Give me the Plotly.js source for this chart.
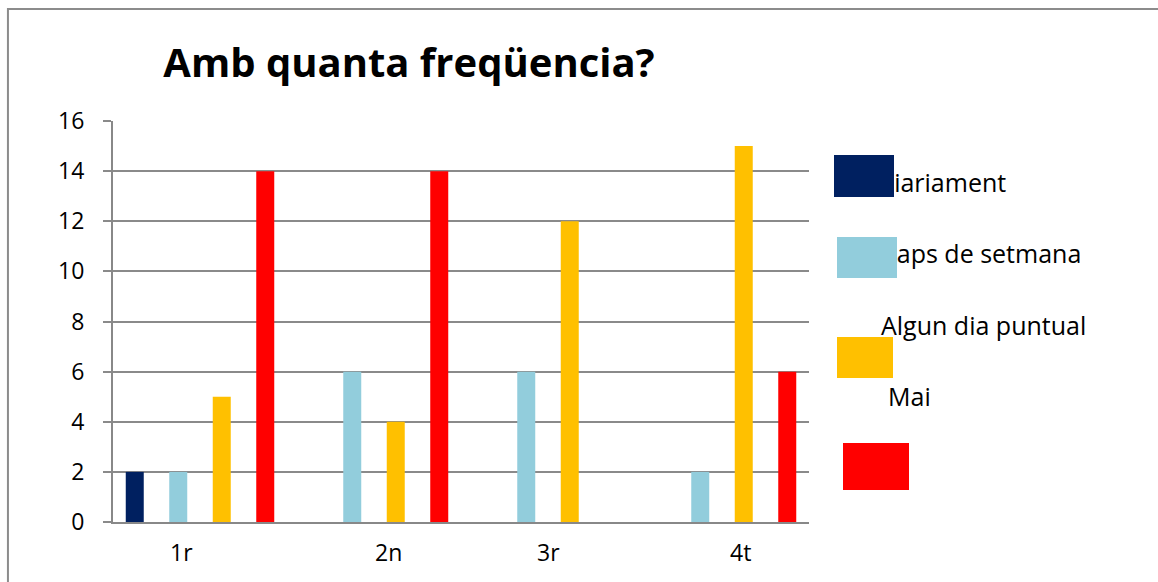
<!DOCTYPE html>
<html>
<head>
<meta charset="utf-8">
<script src="https://cdn.plot.ly/plotly-3.0.1.min.js"></script>
<style>
html,body{margin:0;padding:0;background:#fff;}
#chart{width:1158px;height:582px;}
</style>
</head>
<body>
<div id="chart"></div>
<script>
var categories = ['1r', '2n', '3r', '4t'];
var seriesNames = ['Diariament', 'Caps de setmana', 'Algun dia puntual', 'Mai'];
var diariament = [2, 0, 0, 0];
var capsDeSetmana = [2, 6, 6, 2];
var algunDiaPuntual = [5, 4, 12, 15];
var mai = [14, 14, 0, 6];
var yTicks = [0, 2, 4, 6, 8, 10, 12, 14, 16];

var colors = ['#002060', '#92CDDC', '#FFC000', '#FF0000'];
var seriesValues = [diariament, capsDeSetmana, algunDiaPuntual, mai];

var W = 1158, H = 582;
var L = 113, R = W - 808.6, T = 121, B = H - 522;
var pw = W - L - R, ph = H - T - B;
function px(x) { return (x - L) / pw; }
function py(y) { return (H - B - y) / ph; }

var FONT = 'Open Sans, Noto Sans, sans-serif';

var traces = seriesNames.map(function (n, i) {
  return {
    type: 'bar', name: n, x: categories, y: seriesValues[i],
    marker: {color: colors[i]}, showlegend: false, hoverinfo: 'x+y+name'
  };
});

// x tick labels (slightly offset as in reference)
var xLabelShift = [-19, 14, 0, 18];
var annotations = categories.map(function (c, i) {
  return {
    xref: 'x', yref: 'paper', x: c, y: 0, xshift: xLabelShift[i], yshift: -30,
    text: c, showarrow: false, xanchor: 'center', yanchor: 'middle',
    font: {family: FONT, size: 23, color: '#000'}
  };
});

// custom legend: text first, then swatches over it
var legendText = [
  {t: seriesNames[0], x: 1007, y: 182, anchor: 'right'},
  {t: seriesNames[1], x: 1082, y: 253, anchor: 'right'},
  {t: seriesNames[2], x: 879, y: 325, anchor: 'left'},
  {t: seriesNames[3], x: 886, y: 396, anchor: 'left'}
];
legendText.forEach(function (d) {
  annotations.push({
    xref: 'paper', yref: 'paper', x: px(d.x), y: py(d.y), text: d.t,
    showarrow: false, xanchor: d.anchor, yanchor: 'middle',
    font: {family: FONT, size: 25, color: '#000'}
  });
});
var swatches = [
  {x0: 834, x1: 894, y0: 155, y1: 197},
  {x0: 837, x1: 897, y0: 237, y1: 278},
  {x0: 837, x1: 893, y0: 337, y1: 378},
  {x0: 843, x1: 909, y0: 443, y1: 490}
];
swatches.forEach(function (s, i) {
  annotations.push({
    xref: 'paper', yref: 'paper', x: px((s.x0 + s.x1) / 2), y: py((s.y0 + s.y1) / 2),
    text: ' ', showarrow: false, xanchor: 'center', yanchor: 'middle',
    width: s.x1 - s.x0, height: s.y1 - s.y0, bgcolor: colors[i],
    borderpad: 0, borderwidth: 0, font: {size: 1}
  });
});

var layout = {
  width: W, height: H,
  margin: {l: L, r: R, t: T, b: B, pad: 0},
  paper_bgcolor: '#fff', plot_bgcolor: '#fff',
  title: {
    text: '<b>Amb quanta freqüencia?</b>',
    x: 409 / W, xanchor: 'center', y: 1 - 63 / H, yanchor: 'middle',
    xref: 'container', yref: 'container',
    font: {family: FONT, size: 40, color: '#000'}
  },
  barmode: 'group', bargap: 0, bargroupgap: 0.586,
  xaxis: {
    type: 'category', showticklabels: false, ticks: '',
    showline: true, linecolor: '#888', linewidth: 2, showgrid: false, zeroline: false,
    fixedrange: true
  },
  yaxis: {
    range: [0, 16], tickvals: yTicks, ticktext: yTicks.map(String),
    showgrid: true, gridcolor: '#8a8a8a', gridwidth: 2,
    showline: true, linecolor: '#888', linewidth: 2,
    ticks: 'outside', ticklen: 8, tickcolor: '#8a8a8a', tickwidth: 2,
    ticklabelstandoff: 14,
    tickfont: {family: FONT, size: 23, color: '#000'},
    zeroline: false, fixedrange: true
  },
  shapes: [{
    type: 'rect', xref: 'paper', yref: 'paper',
    x0: px(8), x1: px(1175), y0: py(9), y1: py(600),
    line: {color: '#8c8c8c', width: 2}, fillcolor: 'rgba(0,0,0,0)', layer: 'below'
  }],
  annotations: annotations
};

Plotly.newPlot('chart', traces, layout, {displayModeBar: false, staticPlot: true});
</script>
</body>
</html>
